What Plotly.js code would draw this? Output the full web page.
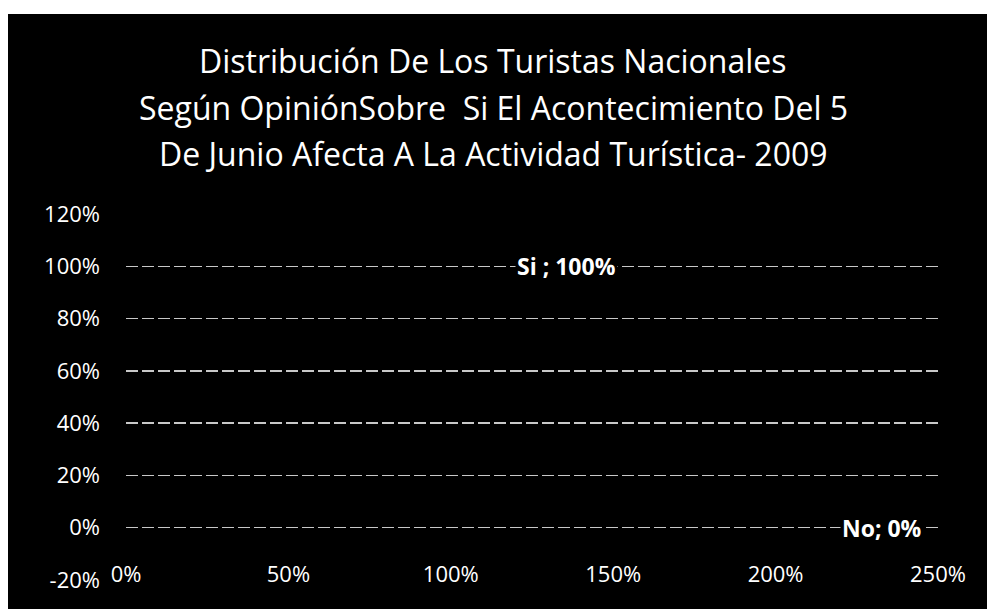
<!DOCTYPE html>
<html>
<head>
<meta charset="utf-8">
<script src="https://cdn.plot.ly/plotly-3.0.1.min.js"></script>
<style>
  html, body { margin: 0; padding: 0; background: #ffffff; width: 987px; height: 609px; overflow: hidden; }
  #chart { position: absolute; left: 8px; top: 14px; width: 979px; height: 595px; }
</style>
</head>
<body>
<div id="chart"></div>
<script>
// ---- data ----
const titleLines = [
  "Distribución De Los Turistas Nacionales",
  "Según OpiniónSobre  Si El Acontecimiento Del 5",
  "De Junio Afecta A La Actividad Turística- 2009"
];
const categories = ["Si", "No"];
const xValues = [1.0, 2.0];          // 100%, 200% on the x axis
const yValues = [1.0, 0.0];          // 100%, 0%
const pointLabels = ["Si ; 100%", "No; 0%"];
const yTickVals = [-0.2, 0, 0.2, 0.4, 0.6, 0.8, 1.0, 1.2];
const yTickText = ["-20%", "0%", "20%", "40%", "60%", "80%", "100%", "120%"];
const gridVals = [0, 0.2, 0.4, 0.6, 0.8, 1.0];
const xTickVals = [0, 0.5, 1.0, 1.5, 2.0, 2.5];
const xTickText = ["0%", "50%", "100%", "150%", "200%", "250%"];

const FONT = "'Open Sans', Lato, sans-serif";

const trace = {
  type: "scatter",
  mode: "markers",
  x: xValues,
  y: yValues,
  text: categories,
  marker: { size: 1, color: "rgba(0,0,0,0)" },
  showlegend: false,
  hoverinfo: "skip"
};

const annotations = [];
const titleY = [1.42, 1.29, 1.165];
titleLines.forEach((t, i) => {
  annotations.push({
    xref: "paper", yref: "paper",
    x: 0.452, y: titleY[i],
    xanchor: "center", yanchor: "middle",
    text: t, showarrow: false,
    font: { family: FONT, size: 32, color: "#ffffff" }
  });
});
pointLabels.forEach((t, i) => {
  annotations.push({
    xref: "x", yref: "y",
    x: xValues[i], y: yValues[i],
    xanchor: "left", yanchor: "middle",
    xshift: 64,
    text: "<b>" + t + "</b>", showarrow: false,
    bgcolor: "#000000",
    font: { family: FONT, size: 23, color: "#ffffff" }
  });
});

const layout = {
  width: 979, height: 595,
  paper_bgcolor: "#000000",
  plot_bgcolor: "#000000",
  margin: { l: 118, r: 49, t: 200, b: 29, pad: 0 },
  showlegend: false,
  xaxis: {
    range: [0, 2.5],
    tickvals: xTickVals, ticktext: xTickText,
    showgrid: false, zeroline: false, showline: false,
    ticks: "",
    ticklabelstandoff: -21,
    tickfont: { family: FONT, size: 22, color: "#ffffff" }
  },
  yaxis: {
    range: [-0.2, 1.2],
    tickvals: yTickVals, ticktext: yTickText,
    showgrid: false, zeroline: false, showline: false,
    ticks: "",
    ticklabelstandoff: 25,
    tickfont: { family: FONT, size: 22, color: "#ffffff" }
  },
  yaxis2: {
    overlaying: "y",
    range: [-0.2, 1.2],
    tickvals: gridVals,
    showticklabels: false,
    showgrid: true, gridcolor: "#c8c8c8", gridwidth: 1.5, griddash: "12px,4px",
    zeroline: false, showline: false, ticks: ""
  },
  annotations: annotations
};

const gridTrace = { type: "scatter", mode: "markers", x: [], y: [], yaxis: "y2", showlegend: false, hoverinfo: "skip" };

Plotly.newPlot("chart", [gridTrace, trace], layout, { displayModeBar: false, staticPlot: true });
</script>
</body>
</html>
